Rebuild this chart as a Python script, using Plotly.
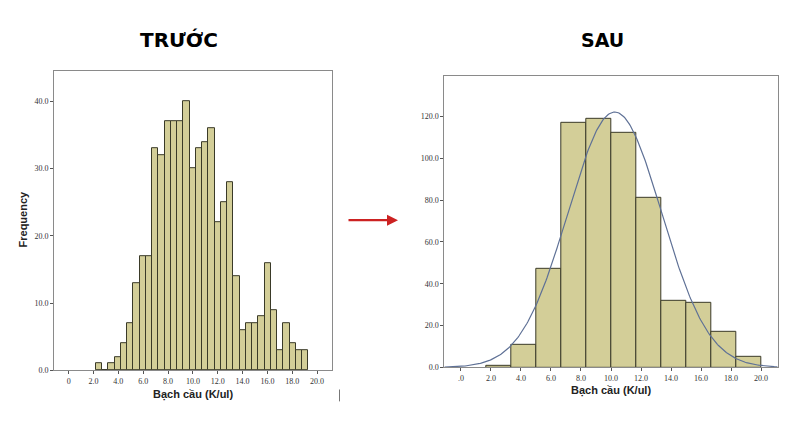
import numpy as np
import plotly.graph_objects as go

# ---------------- data ----------------
titles = ["TRƯỚC", "SAU"]
x_title = "Bạch cầu (K/ul)"
y_title = "Frequency"

# Left histogram (before): counts per bin (bin width ~0.5, starting ~2.2)
before_counts = [1, 0, 1, 2, 4, 7, 13, 17, 17, 33, 32, 37, 37, 37, 40, 30, 33,
                 34, 36, 22, 25, 28, 14, 6, 7, 7, 8, 16, 9, 3, 7, 4, 3, 3]
before_bin_start = 2.2
before_bin_width = 0.503

# Right histogram (after): 11 bins of width 20/12 starting at 20/12
after_counts = [1, 11, 47, 117, 119, 112, 81, 32, 31, 17, 5]
after_bin_start = 20 / 12
after_bin_width = 20 / 12

# Fitted normal curve
after_mean = 10.25
after_sd = 3.12

x_tickvals = [0, 2, 4, 6, 8, 10, 12, 14, 16, 18, 20]
left_x_ticktext = ["0", "2.0", "4.0", "6.0", "8.0", "10.0", "12.0", "14.0", "16.0", "18.0", "20.0"]
right_x_ticktext = [".0", "2.0", "4.0", "6.0", "8.0", "10.0", "12.0", "14.0", "16.0", "18.0", "20.0"]
left_y_tickvals = [0, 10, 20, 30, 40]
left_y_ticktext = ["0.0", "10.0", "20.0", "30.0", "40.0"]
right_y_tickvals = [0, 20, 40, 60, 80, 100, 120]
right_y_ticktext = ["0.0", "20.0", "40.0", "60.0", "80.0", "100.0", "120.0"]

# ---------------- styles ----------------
W, H = 800, 438
BAR_FILL = "#D3CE98"
BAR_EDGE = "#3a3a28"
FRAME = "#8a8a8a"
CURVE = "#5f7196"
TICKFONT = dict(family="Liberation Serif", size=8, color="#333333")

def px_x(p):
    return p / W

def px_y(p):
    return 1 - p / H

fig = go.Figure()

# left bars
bx = [before_bin_start + before_bin_width * (i + 0.5) for i in range(len(before_counts))]
fig.add_trace(go.Bar(x=bx, y=before_counts, width=before_bin_width,
                     marker=dict(color=BAR_FILL, line=dict(color=BAR_EDGE, width=1)),
                     xaxis="x", yaxis="y", showlegend=False, hoverinfo="x+y"))

# right bars
ax = [after_bin_start + after_bin_width * (i + 0.5) for i in range(len(after_counts))]
fig.add_trace(go.Bar(x=ax, y=after_counts, width=after_bin_width,
                     marker=dict(color=BAR_FILL, line=dict(color=BAR_EDGE, width=1)),
                     xaxis="x2", yaxis="y2", showlegend=False, hoverinfo="x+y"))

# normal curve on right
n_total = sum(after_counts)
cx = np.linspace(-1.1, 21.1, 300)
cy = n_total * after_bin_width * np.exp(-0.5 * ((cx - after_mean) / after_sd) ** 2) / (after_sd * np.sqrt(2 * np.pi))
fig.add_trace(go.Scatter(x=cx, y=cy, mode="lines", line=dict(color=CURVE, width=1.2),
                         xaxis="x2", yaxis="y2", showlegend=False, hoverinfo="skip"))

axis_common = dict(showline=True, linecolor=FRAME, linewidth=1, mirror=True,
                   showgrid=False, zeroline=False, ticks="outside", ticklen=3,
                   tickcolor="#555555", tickfont=TICKFONT, fixedrange=True)

fig.update_layout(
    width=W, height=H,
    margin=dict(l=0, r=0, t=0, b=0),
    paper_bgcolor="white", plot_bgcolor="white",
    bargap=0,
    xaxis=dict(domain=[px_x(54), px_x(332)], range=[-1.18, 21.2], anchor="y",
               tickvals=x_tickvals, ticktext=left_x_ticktext, **axis_common),
    yaxis=dict(domain=[px_y(374.5), px_y(72)], range=[0, 44.5], anchor="x",
               tickvals=left_y_tickvals, ticktext=left_y_ticktext, **axis_common),
    xaxis2=dict(domain=[px_x(444.3), px_x(777.7)], range=[-1.11, 21.11], anchor="y2",
                tickvals=x_tickvals, ticktext=right_x_ticktext, **axis_common),
    yaxis2=dict(domain=[px_y(371.7), px_y(76.7)], range=[0, 139.4], anchor="x2",
                tickvals=right_y_tickvals, ticktext=right_y_ticktext, **axis_common),
)

ann = []
ann.append(dict(text="<b>" + titles[0] + "</b>", x=px_x(179), y=px_y(40), xref="paper", yref="paper",
                showarrow=False, xanchor="center", yanchor="middle",
                font=dict(family="DejaVu Sans", size=20, color="black")))
ann.append(dict(text="<b>" + titles[1] + "</b>", x=px_x(602), y=px_y(40), xref="paper", yref="paper",
                showarrow=False, xanchor="center", yanchor="middle",
                font=dict(family="DejaVu Sans", size=19, color="black")))
ann.append(dict(text="<b>" + x_title + "</b>", x=px_x(193), y=px_y(399), xref="paper", yref="paper",
                showarrow=False, xanchor="center", yanchor="middle",
                font=dict(family="Liberation Sans", size=11, color="#222222")))
ann.append(dict(text="<b>" + x_title + "</b>", x=px_x(611), y=px_y(395), xref="paper", yref="paper",
                showarrow=False, xanchor="center", yanchor="middle",
                font=dict(family="Liberation Sans", size=11, color="#222222")))
ann.append(dict(text="<b>" + y_title + "</b>", x=px_x(23), y=px_y(222), xref="paper", yref="paper",
                showarrow=False, xanchor="center", yanchor="middle", textangle=-90,
                font=dict(family="Liberation Sans", size=11, color="#222222")))
# red arrow
ann.append(dict(x=px_x(398), y=px_y(222.7), ax=-51, ay=0,
                xref="paper", yref="paper", axref="pixel", ayref="pixel",
                text="", showarrow=True, arrowhead=2, arrowsize=1, arrowwidth=2.2,
                arrowcolor="#cc2222"))
fig.update_layout(annotations=ann)

# small cursor-like mark
fig.add_shape(type="line", xref="paper", yref="paper",
              x0=px_x(339.5), x1=px_x(339.5), y0=px_y(394), y1=px_y(406),
              line=dict(color="#777777", width=1))

fig.write_html("out.html")
